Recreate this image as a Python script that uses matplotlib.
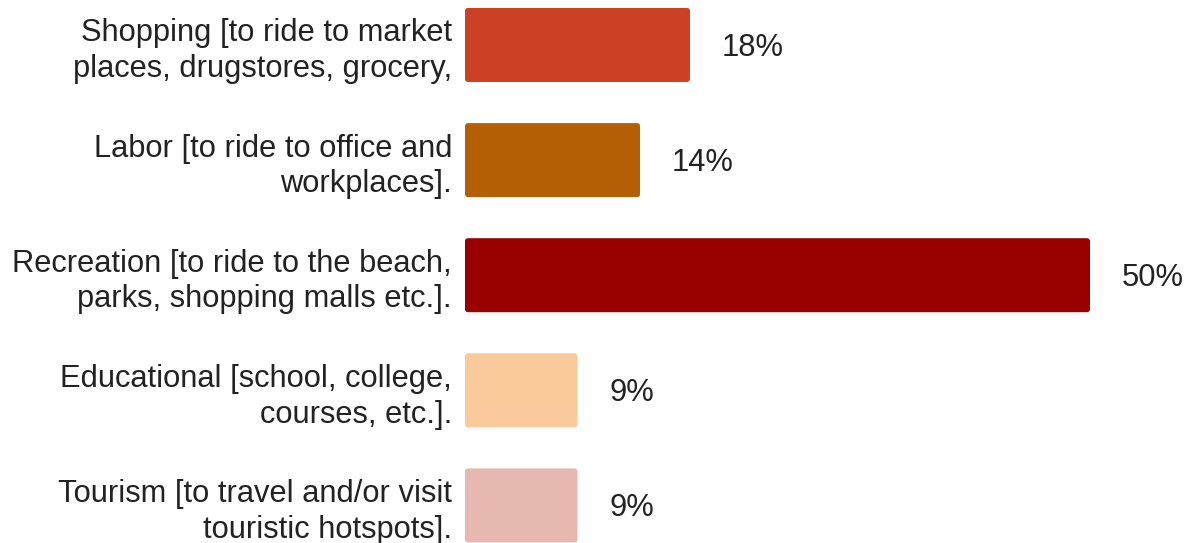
import matplotlib
matplotlib.use("Agg")
import matplotlib.pyplot as plt
from matplotlib.patches import FancyBboxPatch
from matplotlib.transforms import offset_copy

categories = [
    "Shopping [to ride to market\nplaces, drugstores, grocery,",
    "Labor [to ride to office and\nworkplaces].",
    "Recreation [to ride to the beach,\nparks, shopping malls etc.].",
    "Educational [school, college,\ncourses, etc.].",
    "Tourism [to travel and/or visit\ntouristic hotspots].",
]
shares = [18, 14, 50, 9, 9]
value_labels = ["18%", "14%", "50%", "9%", "9%"]
colors = ["#CC4125", "#B45F06", "#990000", "#F9CB9C", "#E6B8AF"]

plt.rcParams["font.family"] = ["Liberation Sans", "DejaVu Sans"]
text_color = "#222222"

W, H = 1194, 543
fig = plt.figure(figsize=(W / 100, H / 100), dpi=100)
left_px = 465
ax = fig.add_axes([left_px / W, 0, 1 - left_px / W, 1])

px_per_unit_x = 12.5
px_per_row = 115.1
first_center_px = 45
ax.set_xlim(0, (W - left_px) / px_per_unit_x)
ax.set_ylim((H - first_center_px) / px_per_row, -first_center_px / px_per_row)

ypos = list(range(len(categories)))
bar_h = 74 / px_per_row
bars = ax.barh(ypos, shares, height=bar_h, color=colors)

# swap plain rectangles for slightly rounded ones
r = 3 / px_per_unit_x
aspect = px_per_unit_x / px_per_row
for b, c in zip(bars, colors):
    b.set_visible(False)
    p = FancyBboxPatch((b.get_x(), b.get_y()), b.get_width(), b.get_height(),
                       boxstyle=f"round,pad=0,rounding_size={r}",
                       mutation_aspect=aspect, facecolor=c, edgecolor="none")
    ax.add_patch(p)

ax.set_yticks(ypos)
ax.set_yticklabels(categories, fontsize=22.2, color=text_color,
                   linespacing=1.25)
ax.tick_params(axis="y", length=0, pad=13 * 0.72)
ax.set_xticks([])
for s in ax.spines.values():
    s.set_visible(False)

trans = offset_copy(ax.transData, fig=fig, x=32 * 0.72, y=-3 * 0.72,
                    units="points")
for y, v, lab in zip(ypos, shares, value_labels):
    ax.text(v, y, lab, transform=trans, ha="left", va="center",
            fontsize=22.2, color=text_color)

fig.savefig("out.png", dpi=100)
